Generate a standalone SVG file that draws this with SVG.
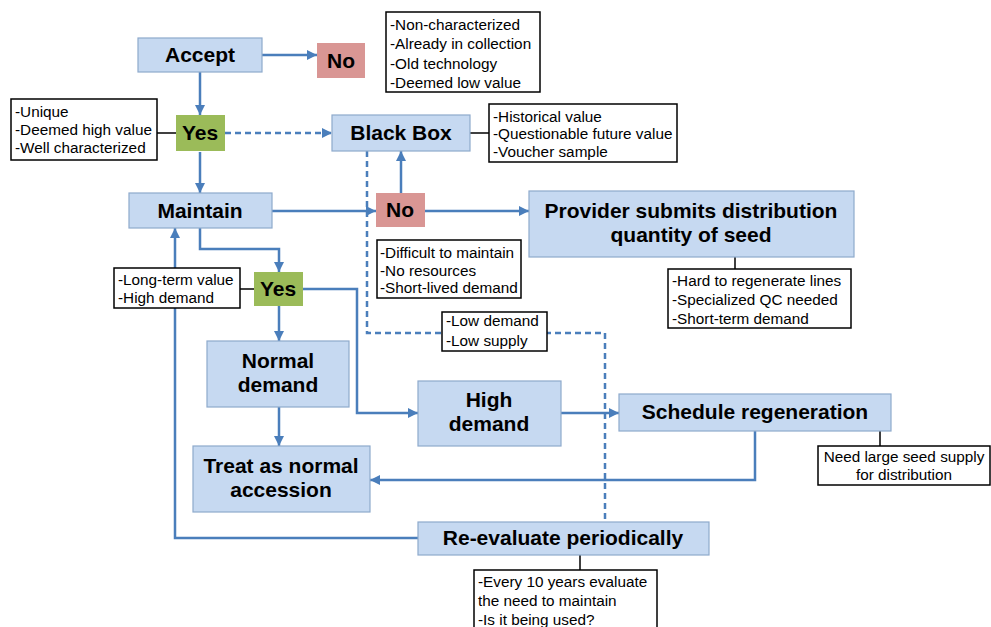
<svg xmlns="http://www.w3.org/2000/svg" width="991" height="627" viewBox="0 0 991 627">
<style>
.box{fill:#C6D9F1;stroke:#8EAACC;stroke-width:1.2}
.no{fill:#D99694;stroke:none}
.yes{fill:#9BBB59;stroke:none}
.note{fill:#fff;stroke:#000;stroke-width:1.5}
.t{font-family:"Liberation Sans",Arial,sans-serif;font-weight:bold;font-size:21px;fill:#000;text-anchor:middle}
.s{font-family:"Liberation Sans",Arial,sans-serif;font-size:15.3px;fill:#000}
.c{fill:none;stroke:#4A7EBB;stroke-width:2.5}
.d{fill:none;stroke:#4A7EBB;stroke-width:2.5;stroke-dasharray:6 4}
.k{fill:none;stroke:#000;stroke-width:1.5}
</style>
<defs>
<marker id="ah" markerUnits="userSpaceOnUse" markerWidth="11" markerHeight="11" refX="10" refY="5" orient="auto">
<path d="M0,0 L10,5 L0,10 z" fill="#4A7EBB"/>
</marker>
</defs>
<rect width="991" height="627" fill="#fff"/>
<g id="connectors">
<path class="c" d="M262,55 H317" marker-end="url(#ah)"/>
<path class="c" d="M200,72 V115" marker-end="url(#ah)"/>
<path class="c" d="M200,152 V193" marker-end="url(#ah)"/>
<path class="d" d="M225,133 H332" marker-end="url(#ah)"/>
<path class="c" d="M272,211 H376" marker-end="url(#ah)"/>
<path class="c" d="M401,193 V151" marker-end="url(#ah)"/>
<path class="c" d="M425,211 H529" marker-end="url(#ah)"/>
<path class="c" d="M200,228 V249 H279 V272" marker-end="url(#ah)"/>
<path class="c" d="M279,306 V341" marker-end="url(#ah)"/>
<path class="c" d="M303,289 H357 V413 H418" marker-end="url(#ah)"/>
<path class="c" d="M561,413 H619" marker-end="url(#ah)"/>
<path class="c" d="M279,407 V446" marker-end="url(#ah)"/>
<path class="c" d="M755,431 V480 H370" marker-end="url(#ah)"/>
<path class="c" d="M418,538 H175 V228" marker-end="url(#ah)"/>
<path class="d" d="M367,151 V333 H605 V522"/>
<path class="k" d="M157,133 H176"/>
<path class="k" d="M470,133 H489"/>
<path class="k" d="M735,257 V269"/>
<path class="k" d="M240,289 H254"/>
<path class="k" d="M880,431 V446"/>
<path class="k" d="M580,555 V570"/>
</g>
<g id="accept"><rect class="box" x="138" y="38" width="124" height="34"/><text class="t" x="200" y="62">Accept</text></g>
<g id="no1"><rect class="no" x="317" y="43" width="48" height="35"/><text class="t" x="341" y="68">No</text></g>
<g id="yes1"><rect class="yes" x="176" y="115" width="49" height="36"/><text class="t" x="200" y="140">Yes</text></g>
<g id="blackbox"><rect class="box" x="332" y="115" width="138" height="36"/><text class="t" x="401" y="140">Black Box</text></g>
<g id="maintain"><rect class="box" x="129" y="193" width="143" height="35"/><text class="t" x="200" y="218">Maintain</text></g>
<g id="no2"><rect class="no" x="376" y="193" width="49" height="34"/><text class="t" x="400" y="217">No</text></g>
<g id="provider"><rect class="box" x="529" y="191" width="325" height="66"/><text class="t" x="691" y="218">Provider submits distribution</text><text class="t" x="691" y="242">quantity of seed</text></g>
<g id="yes2"><rect class="yes" x="254" y="272" width="49" height="34"/><text class="t" x="278" y="296">Yes</text></g>
<g id="normal"><rect class="box" x="207" y="341" width="142" height="66"/><text class="t" x="278" y="368">Normal</text><text class="t" x="278" y="392">demand</text></g>
<g id="high"><rect class="box" x="418" y="381" width="143" height="65"/><text class="t" x="489" y="407">High</text><text class="t" x="489" y="431">demand</text></g>
<g id="schedule"><rect class="box" x="619" y="394" width="272" height="37"/><text class="t" x="755" y="419">Schedule regeneration</text></g>
<g id="treat"><rect class="box" x="193" y="446" width="177" height="66"/><text class="t" x="281" y="473">Treat as normal</text><text class="t" x="281" y="497">accession</text></g>
<g id="reevaluate"><rect class="box" x="418" y="522" width="291" height="33"/><text class="t" x="563" y="545">Re-evaluate periodically</text></g>
<g id="note-reject"><rect class="note" x="386" y="12" width="154" height="80"/>
<text class="s" x="390" y="29.5">-Non-characterized</text><text class="s" x="390" y="48.5">-Already in collection</text><text class="s" x="390" y="68.5">-Old technology</text><text class="s" x="390" y="87.5">-Deemed low value</text></g>
<g id="note-unique"><rect class="note" x="11" y="99" width="146" height="61"/>
<text class="s" x="15" y="116.5">-Unique</text><text class="s" x="15" y="134.5">-Deemed high value</text><text class="s" x="15" y="152.5">-Well characterized</text></g>
<g id="note-historical"><rect class="note" x="489" y="104" width="188" height="58"/>
<text class="s" x="493" y="121.5">-Historical value</text><text class="s" x="493" y="138.5">-Questionable future value</text><text class="s" x="493" y="156.5">-Voucher sample</text></g>
<g id="note-difficult"><rect class="note" x="377" y="240" width="144" height="58"/>
<text class="s" x="380" y="257.5">-Difficult to maintain</text><text class="s" x="380" y="275.5">-No resources</text><text class="s" x="380" y="292.5">-Short-lived demand</text></g>
<g id="note-hard"><rect class="note" x="668" y="269" width="183" height="59"/>
<text class="s" x="672" y="285.5">-Hard to regenerate lines</text><text class="s" x="672" y="304.5">-Specialized QC needed</text><text class="s" x="672" y="323.5">-Short-term demand</text></g>
<g id="note-longterm"><rect class="note" x="114" y="268" width="126" height="40"/>
<text class="s" x="118" y="284.5">-Long-term value</text><text class="s" x="118" y="302.5">-High demand</text></g>
<g id="note-low"><rect class="note" x="442" y="312" width="105" height="39"/>
<text class="s" x="446" y="325.5">-Low demand</text><text class="s" x="446" y="345.5">-Low supply</text></g>
<g id="note-need"><rect class="note" x="818" y="446" width="172" height="39"/>
<text class="s" x="904" y="461.5" text-anchor="middle">Need large seed supply</text><text class="s" x="904" y="479.5" text-anchor="middle">for distribution</text></g>
<g id="note-every"><rect class="note" x="474" y="570" width="183" height="70"/>
<text class="s" x="478" y="586.5">-Every 10 years evaluate</text><text class="s" x="478" y="605.5">the need to maintain</text><text class="s" x="478" y="624.5">-Is it being used?</text></g>
</svg>
